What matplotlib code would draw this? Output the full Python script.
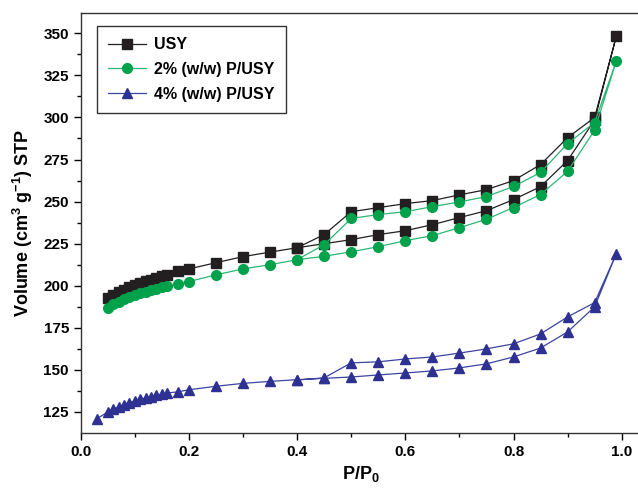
import numpy as np
import matplotlib.pyplot as plt
from matplotlib.ticker import MultipleLocator

plt.rcParams['font.family'] = ['Liberation Sans', 'DejaVu Sans']
plt.rcParams['font.weight'] = 'bold'
plt.rcParams['mathtext.default'] = 'regular'

# relative pressure, adsorption branch
p_ads = [0.05, 0.06, 0.07, 0.08, 0.09, 0.10, 0.11, 0.12, 0.13, 0.14, 0.15, 0.16,
         0.18, 0.20, 0.25, 0.30, 0.35, 0.40, 0.45, 0.50, 0.55, 0.60, 0.65, 0.70,
         0.75, 0.80, 0.85, 0.90, 0.95, 0.99]
# desorption branch
p_des = [0.95, 0.90, 0.85, 0.80, 0.75, 0.70, 0.65, 0.60, 0.55, 0.50, 0.45, 0.40]

usy_ads = [192.5, 194.5, 196.0, 197.5, 199.0, 200.3, 201.5, 202.6, 203.6, 204.6, 205.6, 206.5,
           208.5, 210.0, 213.7, 217.3, 220.0, 222.6, 225.0, 227.4, 230.4, 232.7, 236.3, 240.5,
           244.6, 251.2, 258.9, 274.4, 298.5, 348.2]
usy_des = [300.0, 288.0, 272.0, 262.5, 257.1, 254.0, 250.6, 248.8, 246.4, 244.0, 230.4, 222.6]

p2_ads = [187.0, 189.0, 190.5, 192.0, 193.3, 194.5, 195.5, 196.5, 197.4, 198.2, 199.0, 199.6,
          201.2, 202.5, 206.5, 210.0, 212.5, 215.5, 217.5, 220.2, 223.2, 226.8, 229.8, 234.5,
          239.5, 246.5, 254.2, 268.0, 292.5, 333.5]
p2_des = [297.0, 284.5, 267.3, 259.0, 253.0, 249.8, 247.0, 244.0, 242.3, 240.0, 224.4, 215.5]

p4_x0 = [0.03]
p4_y0 = [121.0]
p4_ads = [125.0, 126.5, 128.0, 129.3, 130.5, 131.5, 132.5, 133.3, 134.2, 135.0, 135.7, 136.3,
          137.0, 138.2, 140.3, 142.0, 143.2, 144.2, 145.0, 145.8, 147.0, 148.2, 149.4, 151.2,
          153.6, 157.7, 163.0, 172.6, 187.5, 219.0]
p4_des = [190.0, 181.5, 171.4, 165.5, 162.5, 160.0, 157.7, 156.5, 154.8, 154.2, 145.3, 144.0]

fig = plt.figure(figsize=(6.38, 4.88), dpi=100)
W, H = 638, 488
x0, x1 = 80.7, 641.0
y_top, y_bot = 13.3, 433.0
ax = fig.add_axes([x0 / W, 1 - y_bot / H, (x1 - x0) / W, (y_bot - y_top) / H])

px_unit = 541.0
ax.set_xlim(0, (x1 - x0) / px_unit)
ax.set_ylim(125 - (433.0 - 412.0) / 1.683, 350 + (33.3 - 13.3) / 1.683)

series = [
    ('USY', usy_ads, usy_des, 's', '#231f20', '#231f20', [], []),
    ('2% (w/w) P/USY', p2_ads, p2_des, 'o', '#00a14b', '#2bb673', [], []),
    ('4% (w/w) P/USY', p4_ads, p4_des, '^', '#2e3192', '#3b44a0', p4_x0, p4_y0),
]
for name, ads, des, mk, mc, lc, xpre, ypre in series:
    xs = list(xpre) + p_ads + p_des
    ys = list(ypre) + ads + des
    ax.plot(xs, ys, color=lc, lw=0.9, marker=mk, markersize=6.5 if mk != 'o' else 7,
            markerfacecolor=mc, markeredgecolor=mc, label=name)

ax.xaxis.set_major_locator(MultipleLocator(0.2))
ax.xaxis.set_minor_locator(MultipleLocator(0.1))
ax.yaxis.set_major_locator(MultipleLocator(25))
ax.yaxis.set_minor_locator(MultipleLocator(12.5))
ax.tick_params(which='both', direction='out', top=False, right=False, labelsize=11)
ax.tick_params(which='major', length=5, width=1)
ax.tick_params(which='minor', length=3, width=1)
ax.xaxis.set_major_formatter(plt.FuncFormatter(lambda v, _: f'{v:.1f}'))
for s in ax.spines.values():
    s.set_linewidth(1.0)
    s.set_color('#333333')
ax.spines['right'].set_visible(False)

ax.set_xlabel('P/P$_0$', fontsize=13, fontweight='bold', labelpad=4)
ax.set_ylabel('Volume (cm$^3$ g$^{-1}$) STP', fontsize=13, fontweight='bold', labelpad=6)

leg = ax.legend(loc='upper left', bbox_to_anchor=(0.029, 0.969), fontsize=11.5, frameon=True,
                fancybox=False, edgecolor='black', borderpad=0.7, handlelength=2.4,
                labelspacing=0.6, handletextpad=0.5, borderaxespad=0)
leg.get_frame().set_linewidth(1.0)

fig.savefig('out.png', dpi=100)
